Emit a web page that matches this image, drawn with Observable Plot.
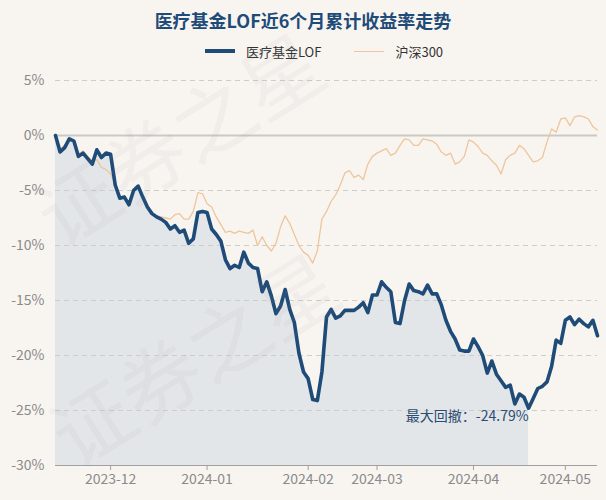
<!DOCTYPE html>
<html>
<head>
<meta charset="utf-8">
<script src="https://cdn.jsdelivr.net/npm/d3@7"></script>
<script src="https://cdn.jsdelivr.net/npm/@observablehq/plot@0.6"></script>
<style>
  html, body { margin: 0; padding: 0; background: #f8f5f1; }
  body { width: 606px; height: 500px; overflow: hidden; font-family: "Noto Sans CJK SC", "Noto Sans", sans-serif; position: relative; }
  #title { height: 38px; line-height: 40px; text-align: center; font-size: 18px; font-weight: bold; color: #1f4b78; }
  #legend { height: 26px; display: flex; justify-content: center; align-items: center; font-size: 13px; color: #333; padding-left: 42px; }
  .sw { display: inline-block; width: 30px; margin-right: 11px; }
  .item { display: flex; align-items: center; }
  #wm { position: absolute; left: 0; top: 0; width: 606px; height: 500px; pointer-events: none; }
</style>
</head>
<body>
<div id="title">医疗基金LOF近6个月累计收益率走势</div>
<div id="legend">
  <span class="item"><span class="sw" style="height:4px;background:#1f4b78"></span>医疗基金LOF</span>
  <span class="item" style="margin-left:33px"><span class="sw" style="height:1px;background:#efc59b"></span>沪深300</span>
</div>
<div id="chart"></div>
<script>
// Cumulative return (%) per trading day, 2023-11-15 .. 2024-05-15
const fund = [0, -1.5, -1.1, -0.3, -0.5, -1.9, -1.6, -2.1, -2.6, -1.3,
  -2.0, -1.6, -1.7, -4.5, -5.7, -5.6, -6.3, -5.0, -4.6, -5.6,
  -6.5, -7.1, -7.4, -7.6, -7.9, -8.5, -8.2, -8.8, -8.6, -9.8,
  -9.4, -7.0, -6.9, -7.0, -8.5, -9.0, -9.6, -11.3, -12.1, -11.8,
  -12.0, -10.6, -11.6, -12.0, -12.1, -14.2, -13.3, -14.6, -16.2, -15.5,
  -14.0, -15.8, -17.0, -19.8, -21.5, -22.1, -24.0, -24.1, -21.5, -16.5,
  -15.8, -16.6, -16.4, -15.9, -15.9, -15.9, -15.6, -15.2, -16.1, -14.5,
  -14.5, -13.3, -13.8, -14.2, -17.0, -17.1, -15.0, -13.5, -14.1, -14.2,
  -14.4, -13.6, -14.4, -14.4, -15.4, -16.8, -17.8, -18.5, -19.5, -19.6,
  -19.6, -18.5, -19.2, -20.0, -21.6, -20.5, -21.7, -22.3, -22.9, -22.7,
  -24.4, -23.5, -23.8, -24.79, -23.9, -23.0, -22.8, -22.4, -21.0, -18.6,
  -18.9, -16.8, -16.5, -17.2, -16.7, -17.1, -17.4, -16.8, -18.2];
const hs300 = [0, -1.2, -0.9, -0.4, -0.6, -1.7, -1.4, -1.9, -2.3, -2.2,
  -2.9, -3.1, -3.5, -4.4, -5.6, -5.5, -6.2, -5.0, -4.6, -5.5,
  -6.4, -7.0, -7.3, -7.4, -7.5, -7.6, -7.2, -7.1, -7.6, -7.6,
  -6.9, -5.2, -5.3, -6.2, -6.5, -7.4, -8.1, -8.8, -8.7, -8.9,
  -8.7, -8.8, -8.9, -8.6, -10.0, -9.2, -10.0, -10.5, -9.8, -8.3,
  -7.3, -8.0, -9.0, -10.0, -10.6, -10.9, -11.6, -10.5, -7.6, -6.9,
  -6.0, -5.4, -4.5, -3.4, -3.2, -3.8, -3.6, -4.0, -2.6, -1.9,
  -1.6, -1.4, -1.2, -1.8, -1.6, -0.9, -0.3, -0.4, -0.9, -0.9,
  -0.3, -0.4, -0.5, -0.8, -1.5, -1.8, -1.6, -2.6, -2.4, -1.9,
  -0.4, -0.6, -1.0, -1.6, -1.8, -2.3, -2.7, -3.5, -2.2, -1.8,
  -1.6, -0.9, -1.2, -1.8, -2.4, -2.3, -2.0, -0.6, 0.6, 0.3,
  1.5, 1.6, 0.9, 1.7, 1.8, 1.7, 1.5, 0.8, 0.5];
// Month tick labels and the trading-day index where each month starts
const tickLabels = ["2023-12", "2024-01", "2024-02", "2024-03", "2024-04", "2024-05"];
const tickIdx = [12, 33, 55, 70, 91, 111];
const yTicks = [5, 0, -5, -10, -15, -20, -25, -30];
const maxDrawdown = -24.79;
const ddIdx = 103;

const rows = fund.map((v, i) => ({i, fund: v, hs300: hs300[i]}));
const ddRows = rows.filter(d => d.i <= ddIdx);
const labelOf = new Map(tickIdx.map((t, k) => [t, tickLabels[k]]));

const chart = Plot.plot({
  width: 606,
  height: 436,
  marginTop: 16,
  marginBottom: 35,
  marginLeft: 55,
  marginRight: 9,
  style: {background: "transparent", fontFamily: "'Noto Sans CJK SC', sans-serif", fontSize: "14px"},
  x: {domain: [0, fund.length - 1], axis: null},
  y: {domain: [-30, 5], axis: null},
  marks: [
    Plot.areaY(ddRows, {x: "i", y1: -30, y2: "fund", fill: "#e3e6e9", curve: "linear"}),
    Plot.ruleY(yTicks.filter(t => t !== 0 && t !== -30), {stroke: "#cfcdca", strokeWidth: 1, strokeDasharray: "5,4"}),
    Plot.ruleY([0], {stroke: "#cbc9c6", strokeWidth: 2}),
    Plot.ruleY([-30], {stroke: "#a0a0a0", strokeWidth: 1}),
    Plot.line(rows, {x: "i", y: "hs300", stroke: "#efc59b", strokeWidth: 1.3}),
    Plot.line(rows, {x: "i", y: "fund", stroke: "#1f4b78", strokeWidth: 3.6, strokeLinejoin: "round"}),
    Plot.axisY({ticks: yTicks, tickSize: 0, tickPadding: 11, tickFormat: d => d + "%", fill: "#8a8a8a", fontSize: 14, label: null}),
    Plot.axisX({ticks: tickIdx, tickSize: 5, tickPadding: 4, tickFormat: d => labelOf.get(d), fill: "#8a8a8a", stroke: "#a0a0a0", fontSize: 14, label: null}),
    Plot.text([{i: ddIdx, v: maxDrawdown}], {x: "i", y: "v", text: () => "最大回撤：" + maxDrawdown + "%", textAnchor: "end", dy: 8, dx: 0, fill: "#2a4d72", fontSize: 14})
  ]
});
document.getElementById("chart").appendChild(chart);
</script>
<svg id="wm" viewBox="0 0 606 500">
  <g fill="#8c8c8c" fill-opacity="0.07" font-family="Noto Sans CJK SC" font-size="80">
    <text transform="translate(60,250) rotate(-32)">证券之星</text>
    <text transform="translate(75,470) rotate(-32)">证券之星</text>
  </g>
</svg>
</body>
</html>
